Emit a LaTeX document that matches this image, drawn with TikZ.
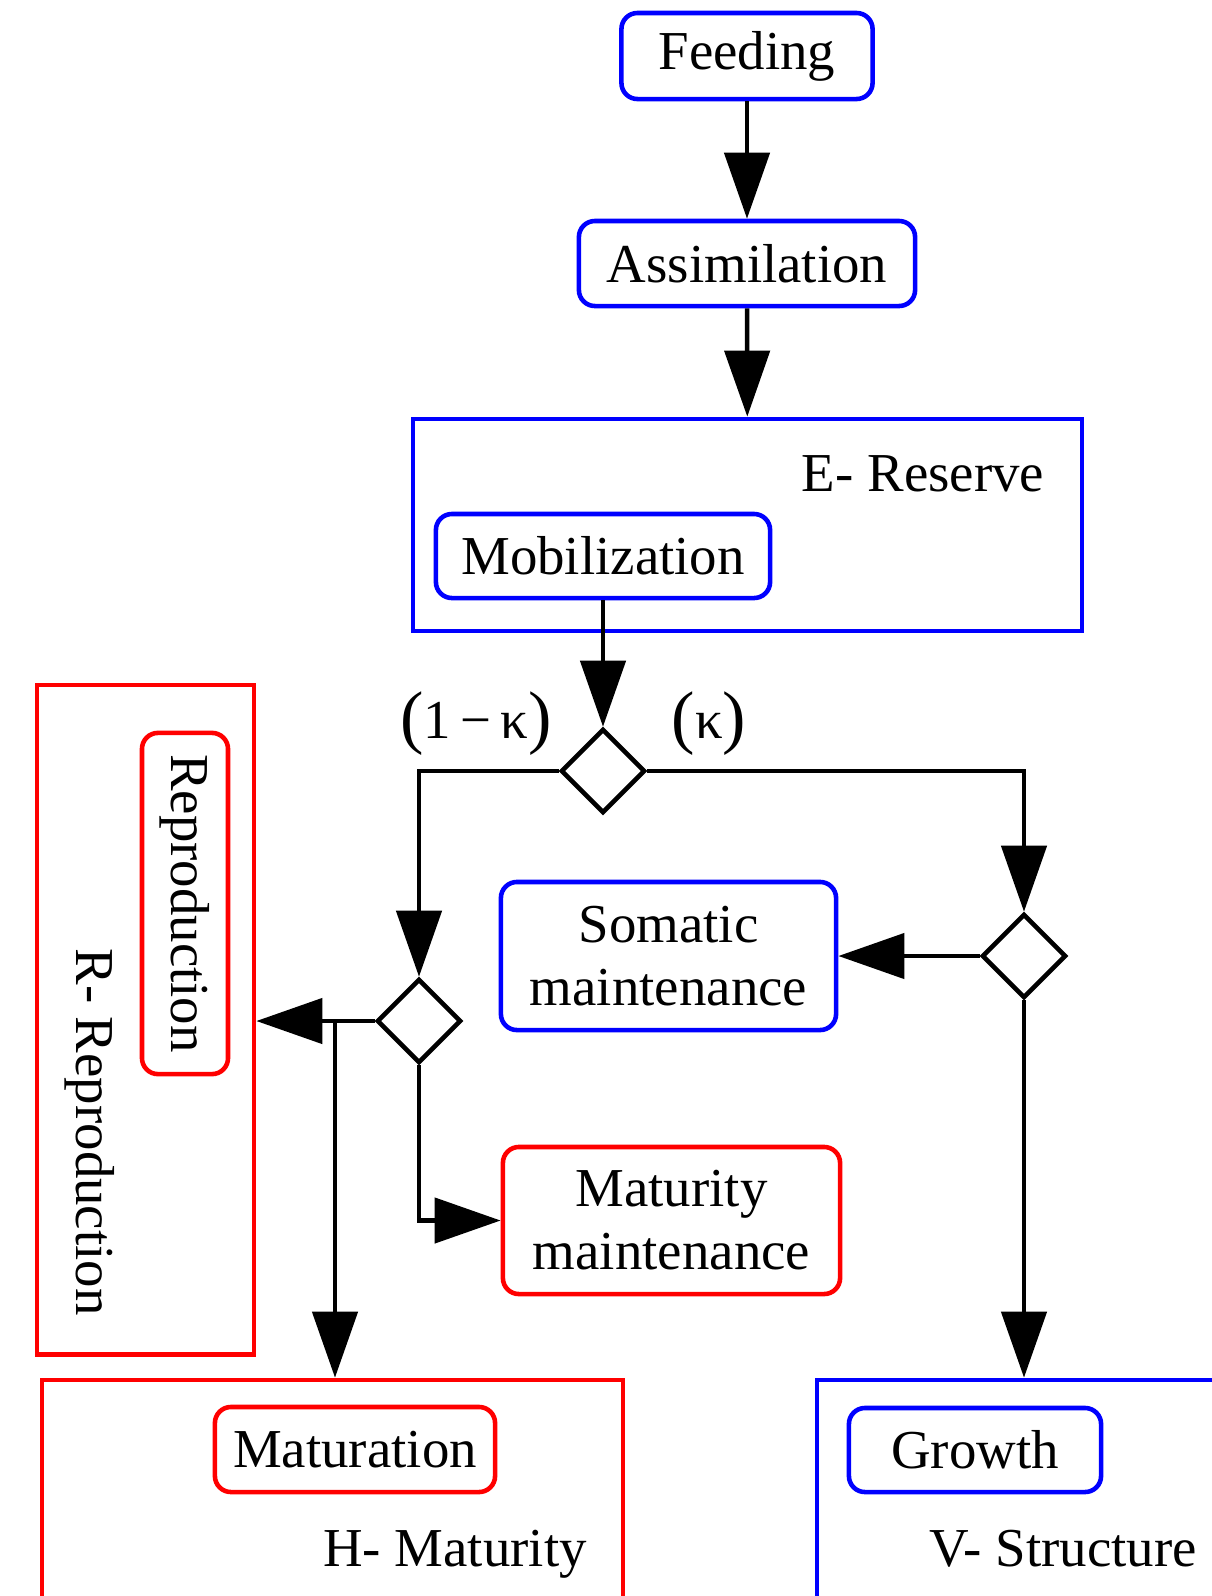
\documentclass[tikz,border=0pt]{standalone}
\usepackage{fontspec}
\setmainfont{Liberation Serif}
\usetikzlibrary{shapes.geometric}
\usetikzlibrary{arrows.meta}
\newcommand{\bigpar}[1]{{\fontsize{20}{20}\selectfont\raisebox{-0.6pt}{#1}}}
\tikzset{
  lbl/.style={font=\fontsize{15.6}{17.9}\selectfont, inner sep=0pt, align=center},
  procbox/.style={lbl, draw, line width=1.3pt, rounded corners=0.16cm},
  statebox/.style={draw, line width=1.3pt, inner sep=0pt},
  junction/.style={diamond, draw, line width=1.3pt, inner sep=0pt, minimum width=0.84cm, minimum height=0.84cm},
  flow/.style={line width=1.3pt, -{Triangle[length=0.66cm,width=0.45cm]}},
}

\begin{document}
\begin{tikzpicture}[x=0.01cm,y=-0.01cm]
\useasboundingbox (0,0) rectangle (1212,1596);
\node[procbox,draw=blue,minimum width=2.51cm,minimum height=0.86cm] (feed) at (747,56) {Feeding};
\node[procbox,draw=blue,minimum width=3.36cm,minimum height=0.85cm] (assim) at (747,263.5) {Assimilation};
\node[statebox,draw=blue,minimum width=6.69cm,minimum height=2.12cm] (reserve) at (747.5,525) {};
\node[lbl] (reservelbl) at (923,474) {E- Reserve};
\node[procbox,draw=blue,minimum width=3.34cm,minimum height=0.84cm] (mobil) at (603,556) {Mobilization};
\node[junction] (kappa) at (603,771) {};
\node[lbl] (lkappa) at (476,724) {\bigpar{(}1\,−\,κ\bigpar{)}};
\node[lbl] (rkappa) at (709,724) {\bigpar{(}κ\bigpar{)}};
\node[junction] (somsplit) at (1024,956) {};
\node[junction] (repsplit) at (419,1021) {};
\node[procbox,draw=blue,minimum width=3.35cm,minimum height=1.48cm] (soma) at (668.5,956) {Somatic\\maintenance};
\node[procbox,draw=red,minimum width=3.37cm,minimum height=1.47cm] (matmaint) at (671.5,1220.5) {Maturity\\maintenance};
\node[statebox,draw=red,minimum width=2.17cm,minimum height=6.69cm] (rrep) at (145.5,1019.5) {};
\node[procbox,draw=red,rotate=-90,minimum width=3.41cm,minimum height=0.86cm] (repro) at (185,903.5) {Reproduction};
\node[lbl,rotate=-90] (rreplbl) at (90,1132) {R- Reproduction};
\node[statebox,draw=red,minimum width=5.81cm,minimum height=2.18cm] (hmat) at (332.5,1489) {};
\node[procbox,draw=red,minimum width=2.80cm,minimum height=0.85cm] (matur) at (355,1449.5) {Maturation};
\node[lbl,anchor=base] (hmatlbl) at (455,1566) {H- Maturity};
\node[statebox,draw=blue,minimum width=3.98cm,minimum height=2.18cm] (vstruct) at (1016,1489) {};
\node[procbox,draw=blue,minimum width=2.52cm,minimum height=0.84cm] (growth) at (975,1450) {Growth};
\node[lbl,anchor=base] (vstructlbl) at (1063,1566) {V- Structure};
\coordinate (matsplit) at (335,1021);

\draw[flow] (feed) -- (assim);
\draw[flow] (assim) -- (reserve);
\draw[flow] (mobil) -- (kappa);
\draw[flow] (kappa.west) -| (repsplit.north);
\draw[flow] (kappa.east) -| (somsplit.north);
\draw[flow] (somsplit.west) -- (soma.east);
\draw[flow] (somsplit.south) -- (somsplit |- vstruct.north);
\draw[flow] (repsplit.west) -- (rrep.east |- repsplit);
\draw[flow] (repsplit.south) |- (matmaint.west);
\draw[flow] (matsplit) -- (matsplit |- hmat.north);
\end{tikzpicture}
\end{document}
